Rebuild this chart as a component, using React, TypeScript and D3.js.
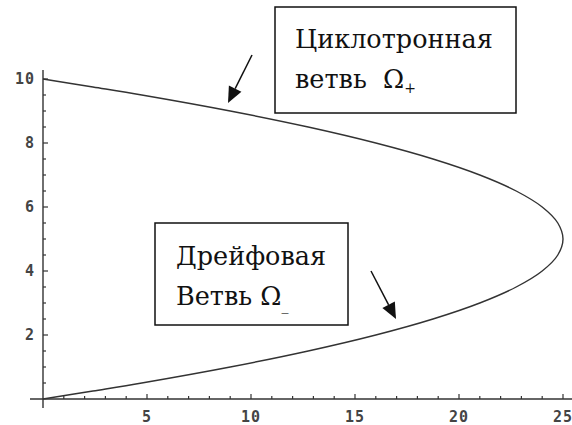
import React, { useEffect, useRef } from "react";
import * as d3 from "d3";

// curve: x (horizontal) for each y (vertical)
const curveY = [0, 0.25, 0.5, 1, 1.5, 2, 2.5, 3, 3.5, 4, 4.5, 5, 5.5, 6, 6.5, 7, 7.5, 8, 8.5, 9, 9.5, 9.75, 10];
const curveX = [0, 2.4, 4.75, 9, 12.75, 16, 18.75, 21, 22.75, 24, 24.75, 25, 24.75, 24, 22.75, 21, 18.75, 16, 12.75, 9, 4.75, 2.4, 0];

const xTicks = [5, 10, 15, 20, 25];
const yTicks = [2, 4, 6, 8, 10];
const xMinor = d3.range(1, 26, 1);
const yMinor = d3.range(0.5, 10.01, 0.5);

export default function App() {
  const svgRef = useRef<SVGSVGElement>(null);

  useEffect(() => {
    const width = 572;
    const height = 425;
    const svg = d3.select(svgRef.current);
    svg.selectAll("*").remove();
    svg.attr("viewBox", `0 0 ${width} ${height}`);

    const x = d3.scaleLinear().domain([0, 25]).range([43, 563]);
    const y = d3.scaleLinear().domain([0, 10]).range([399, 79]);
    const ink = "#333";

    // axes lines
    svg.append("line")
      .attr("x1", 30).attr("x2", 572)
      .attr("y1", y(0)).attr("y2", y(0))
      .attr("stroke", ink).attr("stroke-width", 1.4);
    svg.append("line")
      .attr("x1", x(0)).attr("x2", x(0))
      .attr("y1", 70).attr("y2", 408)
      .attr("stroke", ink).attr("stroke-width", 1.4);

    // x ticks (pointing up)
    svg.append("g").selectAll("line").data(xMinor).join("line")
      .attr("x1", (d) => x(d)).attr("x2", (d) => x(d))
      .attr("y1", y(0)).attr("y2", (d) => y(0) - (d % 5 === 0 ? 5 : 3))
      .attr("stroke", ink).attr("stroke-width", 1.2);
    // y ticks (pointing right)
    svg.append("g").selectAll("line").data(yMinor).join("line")
      .attr("y1", (d) => y(d)).attr("y2", (d) => y(d))
      .attr("x1", x(0)).attr("x2", (d) => x(0) + (d % 2 === 0 ? 5 : 3))
      .attr("stroke", ink).attr("stroke-width", 1.2);

    const tickFont = (sel: any) =>
      sel.attr("font-family", "DejaVu Sans Mono")
        .attr("font-size", 15)
        .attr("font-weight", "bold")
        .attr("letter-spacing", 1)
        .attr("fill", "#444");

    svg.append("g").selectAll("text").data(xTicks).join("text")
      .attr("x", (d) => x(d))
      .attr("y", 422)
      .attr("text-anchor", "middle")
      .text((d) => d)
      .call(tickFont);
    svg.append("g").selectAll("text").data(yTicks).join("text")
      .attr("x", 35)
      .attr("y", (d) => y(d) + 5)
      .attr("text-anchor", "end")
      .text((d) => d)
      .call(tickFont);

    // curve
    const pts = curveY.map((v, i) => ({ x: curveX[i], y: v }));
    const line = d3.line<{ x: number; y: number }>()
      .x((d) => x(d.x))
      .y((d) => y(d.y))
      .curve(d3.curveCatmullRom);
    svg.append("path")
      .datum(pts)
      .attr("d", line as any)
      .attr("fill", "none")
      .attr("stroke", ink)
      .attr("stroke-width", 1.4);

    // label boxes
    const boxes = [
      { x0: 275, y0: 7, x1: 516, y1: 113, tx: 295, lines: ["Циклотронная", "ветвь  Ω"], sub: "+", b1: 48, b2: 88 },
      { x0: 155, y0: 223, x1: 348, y1: 325, tx: 176, lines: ["Дрейфовая", "Ветвь Ω"], sub: "_", b1: 265, b2: 305 },
    ];
    boxes.forEach((b) => {
      svg.append("rect")
        .attr("x", b.x0).attr("y", b.y0)
        .attr("width", b.x1 - b.x0).attr("height", b.y1 - b.y0)
        .attr("fill", "white").attr("stroke", "#111").attr("stroke-width", 1.5);
      const t = svg.append("text")
        .style("font-family", "'DejaVu Serif', serif")
        .attr("font-size", 25.5)
        .attr("fill", "#111");
      t.append("tspan").attr("x", b.tx).attr("y", b.b1).text(b.lines[0]);
      t.append("tspan").attr("x", b.tx).attr("y", b.b2).style("white-space", "pre").text(b.lines[1]);
      t.append("tspan").attr("dy", 5).attr("font-size", 14).text(b.sub);
    });

    // arrows
    const arrows = [
      { from: [252, 55], to: [228, 103] },
      { from: [371, 271], to: [396, 319] },
    ];
    arrows.forEach((a) => {
      const [fx, fy] = a.from;
      const [tx, ty] = a.to;
      const ang = Math.atan2(ty - fy, tx - fx);
      const len = 16;
      const w = 7;
      const bx = tx - len * Math.cos(ang);
      const by = ty - len * Math.sin(ang);
      svg.append("line")
        .attr("x1", fx).attr("y1", fy).attr("x2", bx).attr("y2", by)
        .attr("stroke", "#111").attr("stroke-width", 1.5);
      const px = -Math.sin(ang) * w;
      const py = Math.cos(ang) * w;
      svg.append("path")
        .attr("d", `M${tx},${ty}L${bx + px},${by + py}L${bx - px},${by - py}Z`)
        .attr("fill", "#111");
    });
  }, []);

  return (
    <div style={{ position: "absolute", left: 0, top: 0 }}>
      <svg ref={svgRef} width={572} height={425} style={{ display: "block", background: "white" }}></svg>
    </div>
  );
}
